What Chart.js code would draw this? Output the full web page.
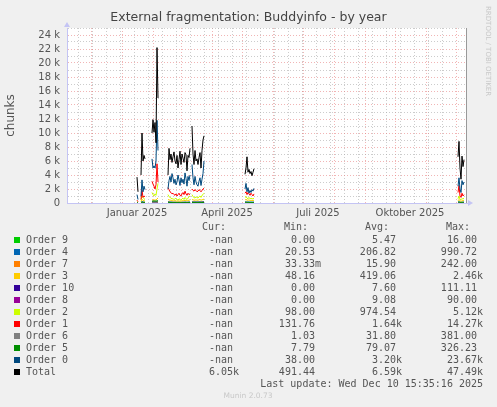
<!DOCTYPE html>
<html>
<head>
<meta charset="utf-8">
<script src="https://cdn.jsdelivr.net/npm/chart.js@4.4.1/dist/chart.umd.min.js"></script>
<style>
  html, body { margin: 0; padding: 0; background: #f0f0f0; }
  #wrap { width: 497px; height: 407px; }
</style>
</head>
<body>
<div id="wrap"><canvas id="buddyChart" width="497" height="407"></canvas></div>
<script>
// x = days since 7 Nov 2024, y = thousands of chunks
const segStart = [70, 74, 85, 101, 125, 178, 391];

const order9 = [
  [0.005, 0.005], [0.005, 0.008, 0.006, 0.005, 0.005], [0.01, 0.012, 0.01, 0.01, 0.01, 0.016, 0.012],
  [0.004, 0.004, 0.004, 0.004, 0.004, 0.004, 0.004, 0.004, 0.004, 0.004, 0.004, 0.004, 0.004, 0.004, 0.004, 0.004, 0.004, 0.004, 0.004, 0.004, 0.004, 0.004, 0.004],
  [0.005, 0.005, 0.005, 0.005, 0.005, 0.005, 0.005, 0.005, 0.005, 0.005, 0.005, 0.005, 0.005],
  [0.006, 0.006, 0.006, 0.006, 0.006, 0.006, 0.006, 0.006, 0.006, 0.006],
  [0.008, 0.01, 0.008, 0.008, 0.008, 0.008, 0.008]
];
const order4 = [
  [0.05, 0.03], [0.1, 0.2, 0.15, 0.12, 0.12], [0.2, 0.2, 0.18, 0.2, 0.18, 0.25, 0.3],
  [0.2, 0.18, 0.16, 0.15, 0.15, 0.14, 0.13, 0.14, 0.13, 0.12, 0.13, 0.14, 0.12, 0.12, 0.13, 0.14, 0.13, 0.15, 0.14, 0.12, 0.14, 0.15, 0.16],
  [0.2, 0.18, 0.17, 0.18, 0.18, 0.17, 0.17, 0.18, 0.19, 0.17, 0.18, 0.2, 0.22],
  [0.15, 0.16, 0.14, 0.15, 0.14, 0.13, 0.14, 0.13, 0.13, 0.14],
  [0.12, 0.16, 0.11, 0.1, 0.12, 0.12, 0.13]
];
const order7 = [
  [0.01, 0.01], [0.03, 0.06, 0.05, 0.04, 0.04], [0.1, 0.12, 0.1, 0.11, 0.1, 0.15, 0.14],
  [0.12, 0.11, 0.1, 0.1, 0.09, 0.09, 0.08, 0.09, 0.08, 0.08, 0.08, 0.09, 0.08, 0.08, 0.09, 0.09, 0.08, 0.1, 0.09, 0.08, 0.09, 0.1, 0.1],
  [0.12, 0.11, 0.1, 0.11, 0.11, 0.1, 0.1, 0.11, 0.12, 0.1, 0.11, 0.12, 0.13],
  [0.08, 0.09, 0.07, 0.08, 0.07, 0.07, 0.07, 0.07, 0.06, 0.07],
  [0.06, 0.08, 0.05, 0.05, 0.06, 0.05, 0.06]
];
const order3 = [
  [0.1, 0.05], [0.2, 0.5, 0.4, 0.3, 0.3], [0.5, 0.4, 0.4, 0.45, 0.4, 0.6, 0.7],
  [0.5, 0.45, 0.4, 0.4, 0.35, 0.3, 0.3, 0.35, 0.3, 0.25, 0.3, 0.3, 0.25, 0.3, 0.3, 0.35, 0.3, 0.4, 0.35, 0.3, 0.35, 0.4, 0.45],
  [0.5, 0.45, 0.4, 0.4, 0.45, 0.4, 0.4, 0.45, 0.5, 0.4, 0.45, 0.5, 0.55],
  [0.45, 0.5, 0.4, 0.4, 0.45, 0.35, 0.4, 0.35, 0.35, 0.4],
  [0.3, 0.5, 0.3, 0.25, 0.3, 0.35, 0.4]
];
const order10 = [
  [0.11, 0.06], [0.02, 0.03, 0.02, 0.02, 0.02], [0.01, 0.01, 0.01, 0.01, 0.01, 0.02, 0.01],
  [0.005, 0.005, 0.005, 0.005, 0.005, 0.005, 0.005, 0.005, 0.005, 0.005, 0.005, 0.005, 0.005, 0.005, 0.005, 0.005, 0.005, 0.005, 0.005, 0.005, 0.005, 0.005, 0.005],
  [0.005, 0.005, 0.005, 0.005, 0.005, 0.005, 0.005, 0.005, 0.005, 0.005, 0.005, 0.005, 0.005],
  [0.006, 0.006, 0.006, 0.006, 0.006, 0.006, 0.006, 0.006, 0.006, 0.006],
  [0.008, 0.01, 0.008, 0.008, 0.008, 0.008, 0.008]
];
const order8 = [
  [0.05, 0.03], [0.02, 0.03, 0.02, 0.02, 0.02], [0.01, 0.01, 0.01, 0.01, 0.01, 0.02, 0.01],
  [0.01, 0.01, 0.01, 0.01, 0.01, 0.01, 0.01, 0.01, 0.01, 0.01, 0.01, 0.01, 0.01, 0.01, 0.01, 0.01, 0.01, 0.01, 0.01, 0.01, 0.01, 0.01, 0.01],
  [0.01, 0.01, 0.01, 0.01, 0.01, 0.01, 0.01, 0.01, 0.01, 0.01, 0.01, 0.01, 0.01],
  [0.01, 0.01, 0.01, 0.01, 0.01, 0.01, 0.01, 0.01, 0.01, 0.01],
  [0.01, 0.01, 0.01, 0.01, 0.01, 0.01, 0.01]
];
const order2 = [
  [0.2, 0.1], [0.4, 1.0, 0.8, 0.6, 0.5], [1.5, 1.2, 1.0, 1.3, 1.1, 2.0, 2.8],
  [1.2, 0.9, 0.8, 0.7, 0.6, 0.6, 0.5, 0.6, 0.7, 0.5, 0.4, 0.6, 0.5, 0.4, 0.6, 0.7, 0.5, 0.8, 0.6, 0.5, 0.7, 0.9, 1.0],
  [1.2, 0.9, 0.8, 0.7, 0.9, 0.8, 0.7, 0.9, 1.0, 0.8, 1.1, 1.2, 1.4],
  [0.8, 0.9, 0.7, 0.6, 0.8, 0.6, 0.7, 0.6, 0.6, 0.7],
  [0.6, 1.0, 0.5, 0.5, 0.6, 0.6, 0.7]
];
const order1 = [
  [0.4, 0.2], [0.5, 1.8, 0.8, 1.0, 0.9], [3.1, 2.7, 2.4, 2.0, 2.6, 5.6, 3.0],
  [2.2, 1.9, 1.6, 1.5, 1.3, 1.4, 1.2, 1.1, 1.3, 1.0, 1.2, 1.4, 1.1, 1.0, 1.3, 1.5, 1.2, 1.7, 1.3, 1.1, 1.4, 1.2, 1.3],
  [2.0, 1.8, 1.7, 1.9, 1.8, 1.6, 1.7, 1.9, 1.8, 1.6, 1.8, 2.0, 2.1],
  [1.4, 1.6, 1.2, 1.5, 1.3, 1.1, 1.4, 1.2, 1.0, 1.3],
  [1.5, 2.5, 1.0, 0.8, 1.4, 1.0, 1.2]
];
const order6 = [
  [0.01, 0.01], [0.03, 0.05, 0.04, 0.03, 0.03], [0.08, 0.1, 0.09, 0.1, 0.08, 0.12, 0.1],
  [0.03, 0.03, 0.02, 0.02, 0.02, 0.02, 0.02, 0.02, 0.02, 0.02, 0.02, 0.02, 0.02, 0.02, 0.02, 0.02, 0.02, 0.03, 0.02, 0.02, 0.02, 0.03, 0.03],
  [0.03, 0.03, 0.02, 0.03, 0.03, 0.02, 0.02, 0.03, 0.03, 0.02, 0.03, 0.03, 0.04],
  [0.04, 0.05, 0.04, 0.04, 0.04, 0.03, 0.04, 0.03, 0.03, 0.04],
  [0.05, 0.06, 0.04, 0.04, 0.05, 0.04, 0.05]
];
const order5 = [
  [0.03, 0.02], [0.08, 0.15, 0.1, 0.1, 0.09], [0.25, 0.3, 0.28, 0.3, 0.26, 0.32, 0.28],
  [0.1, 0.08, 0.07, 0.06, 0.06, 0.05, 0.05, 0.05, 0.05, 0.04, 0.05, 0.05, 0.04, 0.04, 0.05, 0.05, 0.05, 0.06, 0.05, 0.04, 0.05, 0.06, 0.06],
  [0.07, 0.06, 0.05, 0.06, 0.06, 0.05, 0.05, 0.06, 0.06, 0.05, 0.06, 0.07, 0.08],
  [0.1, 0.12, 0.09, 0.1, 0.09, 0.08, 0.09, 0.08, 0.08, 0.09],
  [0.12, 0.15, 0.1, 0.09, 0.11, 0.1, 0.12]
];
const order0 = [
  [1.2, 0.5], [1.0, 3.3, 1.6, 2.4, 1.9], [6.3, 5.0, 5.3, 5.0, 6.0, 11.8, 7.5],
  [2.0, 3.2, 3.8, 3.0, 4.2, 3.6, 2.8, 3.4, 2.6, 3.0, 4.0, 3.3, 2.5, 3.6, 2.9, 3.4, 2.7, 4.3, 3.5, 2.4, 3.8, 3.2, 4.0],
  [5.5, 3.6, 2.6, 3.8, 3.0, 2.6, 2.4, 3.1, 3.6, 2.5, 3.4, 4.2, 6.0],
  [2.0, 2.8, 1.6, 2.2, 1.4, 1.8, 1.5, 1.9, 1.7, 2.1],
  [2.4, 3.6, 2.0, 1.5, 3.2, 2.6, 3.0]
];
const total = [
  [3.7, 1.6], [4.0, 10.0, 6.0, 6.8, 6.3], [10.0, 11.9, 10.1, 11.5, 8.6, 22.2, 15.0],
  [4.0, 7.8, 6.2, 7.0, 5.8, 6.6, 7.3, 6.0, 5.6, 6.8, 5.0, 6.2, 7.4, 5.5, 7.0, 6.4, 5.8, 7.2, 6.9, 4.6, 6.8, 6.5, 7.8],
  [11.0, 7.0, 5.5, 7.5, 6.0, 6.3, 5.5, 6.5, 7.2, 5.0, 7.5, 9.0, 9.6],
  [4.1, 5.0, 6.6, 4.4, 4.8, 4.2, 4.5, 3.9, 4.4, 4.9],
  [6.6, 8.8, 5.0, 3.4, 6.7, 5.2, 6.2]
];

const seriesNames = ['Order 9', 'Order 4', 'Order 7', 'Order 3', 'Order 10', 'Order 8',
  'Order 2', 'Order 1', 'Order 6', 'Order 5', 'Order 0', 'Total'];
const seriesColors = ['#00CC00', '#0066B3', '#FF8000', '#FFCC00', '#330099', '#990099',
  '#CCFF00', '#FF0000', '#808080', '#008F00', '#00487D', '#000000'];
const seriesData = [order9, order4, order7, order3, order10, order8,
  order2, order1, order6, order5, order0, total];

const curText = ['-nan ', '-nan ', '-nan ', '-nan ', '-nan ', '-nan ', '-nan ', '-nan ', '-nan ', '-nan ', '-nan ', '6.05k'];
const minText = ['0.00 ', '20.53 ', '33.33m', '48.16 ', '0.00 ', '0.00 ', '98.00 ', '131.76 ', '1.03 ', '7.79 ', '38.00 ', '491.44 '];
const avgText = ['5.47 ', '206.82 ', '15.90 ', '419.06 ', '7.60 ', '9.08 ', '974.54 ', '1.64k', '31.80 ', '79.07 ', '3.20k', '6.59k'];
const maxText = ['16.00 ', '990.72 ', '242.00 ', '2.46k', '111.11 ', '90.00 ', '5.12k', '14.27k', '381.00 ', '326.23 ', '23.67k', '47.49k'];

// x axis: month starts (major), fortnightly Mondays (minor), labels mid-month
const monthStarts = [24, 55, 86, 114, 145, 175, 206, 236, 267, 298, 328, 359, 389];
const minorDays = [11, 25, 39, 53, 67, 81, 95, 109, 123, 137, 151, 165, 179, 193, 207, 221,
  235, 249, 263, 277, 291, 305, 319, 333, 347, 361, 375, 389];
const labelDays = [70, 160, 251, 343];
const labelTexts = ['Januar 2025', 'April 2025', 'Juli 2025', 'Oktober 2025'];

function toPoints(segs) {
  const pts = [];
  segs.forEach((vals, i) => {
    vals.forEach((v, j) => pts.push({ x: segStart[i] + j, y: v }));
    pts.push({ x: segStart[i] + vals.length, y: null });
  });
  return pts;
}

const MAJOR = 'rgba(230, 120, 120, 0.55)';
const MINOR = 'rgba(170, 170, 170, 0.6)';
const AXIS = '#c4c4f4';
const TEXT = '#555';

const rrdLook = {
  id: 'rrdLook',
  beforeDraw(chart) {
    const { ctx, chartArea: a } = chart;
    ctx.save();
    ctx.fillStyle = '#ffffff';
    ctx.fillRect(a.left, a.top, a.right - a.left, a.bottom - a.top);
    ctx.restore();
  },
  afterDraw(chart) {
    const { ctx, chartArea: a } = chart;
    ctx.save();
    // axis arrows
    ctx.fillStyle = AXIS;
    ctx.strokeStyle = AXIS;
    ctx.beginPath();
    ctx.moveTo(a.left - 3, a.top - 1);
    ctx.lineTo(a.left + 3, a.top - 1);
    ctx.lineTo(a.left, a.top - 6);
    ctx.closePath();
    ctx.fill();
    ctx.beginPath();
    ctx.moveTo(a.right, a.bottom + 0.5);
    ctx.lineTo(a.right + 3, a.bottom + 0.5);
    ctx.stroke();
    ctx.beginPath();
    ctx.moveTo(a.right + 2, a.bottom - 3);
    ctx.lineTo(a.right + 2, a.bottom + 3);
    ctx.lineTo(a.right + 7, a.bottom);
    ctx.closePath();
    ctx.fill();

    // side watermark
    ctx.fillStyle = '#c8c8c8';
    ctx.font = '7px "DejaVu Sans"';
    ctx.translate(488, 6);
    ctx.rotate(Math.PI / 2);
    ctx.textBaseline = 'middle';
    ctx.textAlign = 'left';
    ctx.fillText('RRDTOOL / TOBI OETIKER', 0, 0);
    ctx.restore();

    // legend table
    ctx.save();
    ctx.font = '10px "DejaVu Sans Mono"';
    ctx.textBaseline = 'middle';
    ctx.fillStyle = TEXT;
    ctx.textAlign = 'right';
    const headY = 227.5;
    ctx.fillText('Cur:', 226, headY);
    ctx.fillText('Min:', 308, headY);
    ctx.fillText('Avg:', 389, headY);
    ctx.fillText('Max:', 470, headY);
    seriesNames.forEach((name, i) => {
      const y = 240 + i * 12;
      ctx.fillStyle = seriesColors[i];
      ctx.fillRect(14, y - 3, 6, 6);
      ctx.fillStyle = TEXT;
      ctx.textAlign = 'left';
      ctx.fillText(name, 26, y);
      ctx.textAlign = 'right';
      ctx.fillText(curText[i], 239, y);
      ctx.fillText(minText[i], 321, y);
      ctx.fillText(avgText[i], 402, y);
      ctx.fillText(maxText[i], 483, y);
    });
    ctx.fillText('Last update: Wed Dec 10 15:35:16 2025', 483, 384);
    ctx.font = '7.5px "DejaVu Sans"';
    ctx.fillStyle = '#c8c8c8';
    ctx.textAlign = 'center';
    ctx.fillText('Munin 2.0.73', 248, 396);
    ctx.restore();
  }
};

const datasets = seriesNames.map((name, i) => ({
  label: name,
  data: toPoints(seriesData[i]),
  borderColor: seriesColors[i],
  backgroundColor: seriesColors[i],
  borderWidth: 1,
  pointRadius: 0,
  tension: 0,
  spanGaps: false,
  order: seriesNames.length - 1 - i
}));

new Chart(document.getElementById('buddyChart'), {
  type: 'line',
  data: { datasets },
  plugins: [rrdLook],
  options: {
    responsive: false,
    devicePixelRatio: 1,
    animation: false,
    layout: { padding: 0 },
    plugins: {
      legend: { display: false },
      tooltip: { enabled: false },
      title: {
        display: true,
        text: 'External fragmentation: Buddyinfo - by year',
        color: '#444',
        font: { family: 'DejaVu Sans', size: 12.5, weight: 'normal', lineHeight: 1.2 },
        padding: { top: 10, bottom: 3 }
      }
    },
    scales: {
      x: {
        type: 'linear',
        min: 0,
        max: 399,
        afterBuildTicks: (axis) => {
          const vals = [...new Set([...monthStarts, ...minorDays, ...labelDays])].sort((a, b) => a - b);
          axis.ticks = vals.map(v => ({ value: v }));
        },
        afterFit: (axis) => { axis.height = 204; },
        ticks: {
          autoSkip: false,
          maxRotation: 0,
          padding: 4,
          color: TEXT,
          font: { family: 'DejaVu Sans', size: 10 },
          callback: (v) => {
            const k = labelDays.indexOf(v);
            return k >= 0 ? labelTexts[k] : '';
          }
        },
        grid: {
          drawTicks: false,
          lineWidth: 1,
          color: (c) => {
            const v = c.tick && c.tick.value;
            if (monthStarts.includes(v)) return MAJOR;
            if (minorDays.includes(v)) return MINOR;
            return 'rgba(0,0,0,0)';
          }
        },
        border: { color: AXIS, width: 1, dash: [1, 2] }
      },
      y: {
        min: 0,
        max: 25,
        afterBuildTicks: (axis) => {
          const t = [];
          for (let v = 0; v <= 25; v++) t.push({ value: v });
          axis.ticks = t;
        },
        afterFit: (axis) => { axis.width = 67; },
        ticks: {
          autoSkip: false,
          padding: 7,
          color: TEXT,
          font: { family: 'DejaVu Sans', size: 10 },
          callback: (v) => (v % 2 ? '' : (v === 0 ? '0' : v + ' k'))
        },
        grid: {
          drawTicks: false,
          lineWidth: 1,
          color: (c) => (c.tick && c.tick.value % 2 === 0 ? MAJOR : MINOR)
        },
        border: { color: AXIS, width: 1, dash: [1, 2] },
        title: {
          display: true,
          text: 'chunks',
          color: TEXT,
          font: { family: 'DejaVu Sans', size: 12 },
          padding: { top: 4, bottom: 0 }
        }
      },
      y2: {
        position: 'right',
        min: 0,
        max: 1,
        afterFit: (axis) => { axis.width = 31; },
        ticks: { display: false },
        grid: { drawOnChartArea: false, drawTicks: false },
        border: { color: '#999', width: 1 }
      }
    }
  }
});
</script>
</body>
</html>
